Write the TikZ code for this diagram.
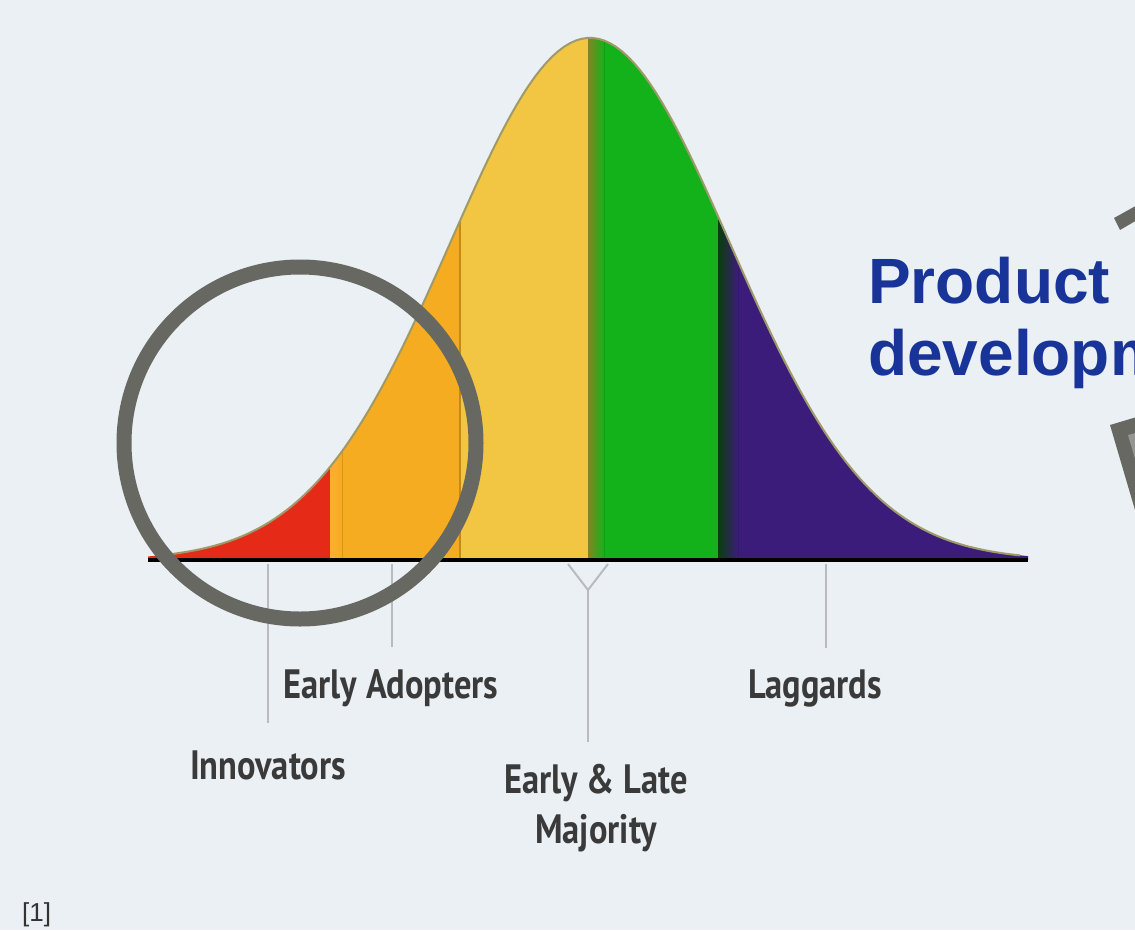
\documentclass[tikz,border=0pt]{standalone}
\usepackage{fontspec}
\setmainfont{Liberation Sans}
\newfontfamily\lblfont[FakeStretch=0.84]{PT Sans}
\usetikzlibrary{calc,arrows.meta}
\tikzset {>=Stealth}

\definecolor{bgcol}{RGB}{234,240,243}
\definecolor{redband}{RGB}{229,42,23}
\definecolor{orangeband}{RGB}{245,172,32}
\definecolor{yellowband}{RGB}{242,198,66}
\definecolor{greenband}{RGB}{20,178,26}
\definecolor{purpleband}{RGB}{60,28,122}
\definecolor{ringgray}{RGB}{104,104,98}
\definecolor{tickgray}{RGB}{184,188,192}
\definecolor{lblgray}{RGB}{58,58,58}
\definecolor{titleblue}{RGB}{24,52,152}
\definecolor{baseline}{RGB}{74,60,60}

\tikzset{
  tick/.style={draw=tickgray, line width=2pt},
  curvelbl/.style={font={\lblfont\bfseries\fontsize{41}{46}\selectfont}, text=lblgray, inner sep=0pt},
}

\begin{document}
\begin{tikzpicture}[x=1pt,y=-1pt,
  declare function={bell(\x)=560-522*exp(-0.5*((\x-590)/140)*((\x-590)/140));}]
\useasboundingbox (0,0) rectangle (1135,930);
\clip (0,0) rectangle (1135,930);
\fill[bgcol] (0,0) rectangle (1135,930);

% colour bands under the curve
\fill[redband] (148,560) -- plot[domain=148:332,samples=60] (\x,{bell(\x)}) -- (332,560) -- cycle;
\fill[orangeband] (330,560) -- plot[domain=330:462,samples=40] (\x,{bell(\x)}) -- (462,560) -- cycle;
\fill[left color=orange!80!yellow!80, right color=orangeband] (330,560) -- plot[domain=330:342,samples=5] (\x,{bell(\x)}) -- (342,560) -- cycle;
\fill[yellowband] (460,560) -- plot[domain=460:592,samples=40] (\x,{bell(\x)}) -- (592,560) -- cycle;
\fill[greenband] (590,560) -- plot[domain=590:720,samples=40] (\x,{bell(\x)}) -- (720,560) -- cycle;
\fill[left color=yellowband!60!black!90!green, right color=greenband] (588,560) -- plot[domain=588:604,samples=6] (\x,{bell(\x)}) -- (604,560) -- cycle;
\fill[purpleband] (718,560) -- plot[domain=718:1028,samples=80] (\x,{bell(\x)}) -- (1028,560) -- cycle;
\fill[left color=greenband!35!black, right color=purpleband] (718,560) -- plot[domain=718:738,samples=6] (\x,{bell(\x)}) -- (738,560) -- cycle;
\draw[orangeband!80!black, line width=1.5pt] (460,560) -- (460,{bell(460)});

% outline and base line
\draw[black!45!olive!60, line width=2pt] plot[domain=160:1020,samples=150] (\x,{bell(\x)});
\draw[baseline, line width=3.5pt] (148,560) -- (1028,560);

% tick lines
\coordinate (innA) at (268,564);
\coordinate (innB) at (268,723);
\coordinate (adoA) at (392,564);
\coordinate (adoB) at (392,647);
\coordinate (majL) at (568,564);
\coordinate (majR) at (608,564);
\coordinate (majV) at (588,590);
\coordinate (majB) at (588,742);
\coordinate (lagA) at (826,564);
\coordinate (lagB) at (826,648);
\draw[tick] (innA) -- (innB);
\draw[tick] (adoA) -- (adoB);
\draw[tick] (majL) -- (majV) -- (majR);
\draw[tick] (majV) -- (majB);
\draw[tick] (lagA) -- (lagB);

% labels
\node[curvelbl] (adopters) at (391,688) {Early Adopters};
\node[curvelbl] (innovators) at (268,765) {Innovators};
\node[curvelbl] (majority1) at (596,783) {Early \& Late};
\node[curvelbl] (majority2) at (596,833) {Majority};
\node[curvelbl] (laggards) at (815,688) {Laggards};

% ring round the innovators
\draw[ringgray, line width=15pt] (300,443) circle[radius=176];

% shapes cut by the right edge
\fill[ringgray] (1114,218) -- (1150,198) -- (1156,209) -- (1120,230) -- cycle;
\fill[ringgray] (1110,425) -- (1150,413) -- (1150,560) -- (1135,510) -- cycle;
\fill[ringgray!70!white] (1128,435) -- (1150,429) -- (1150,510) -- cycle;

% title
\node[anchor=base west, inner sep=0pt, text=titleblue, font={\bfseries\fontsize{64}{72}\selectfont}] (prodA) at (868,303) {Product};
\node[anchor=base west, inner sep=0pt, text=titleblue, font={\bfseries\fontsize{64}{72}\selectfont}] (prodB) at (868,375) {development};

% reference mark
\node[anchor=base west, inner sep=0pt, text=black!80, font={\fontsize{26}{30}\selectfont}] (refmark) at (22,921) {[1]};
\end{tikzpicture}
\end{document}
